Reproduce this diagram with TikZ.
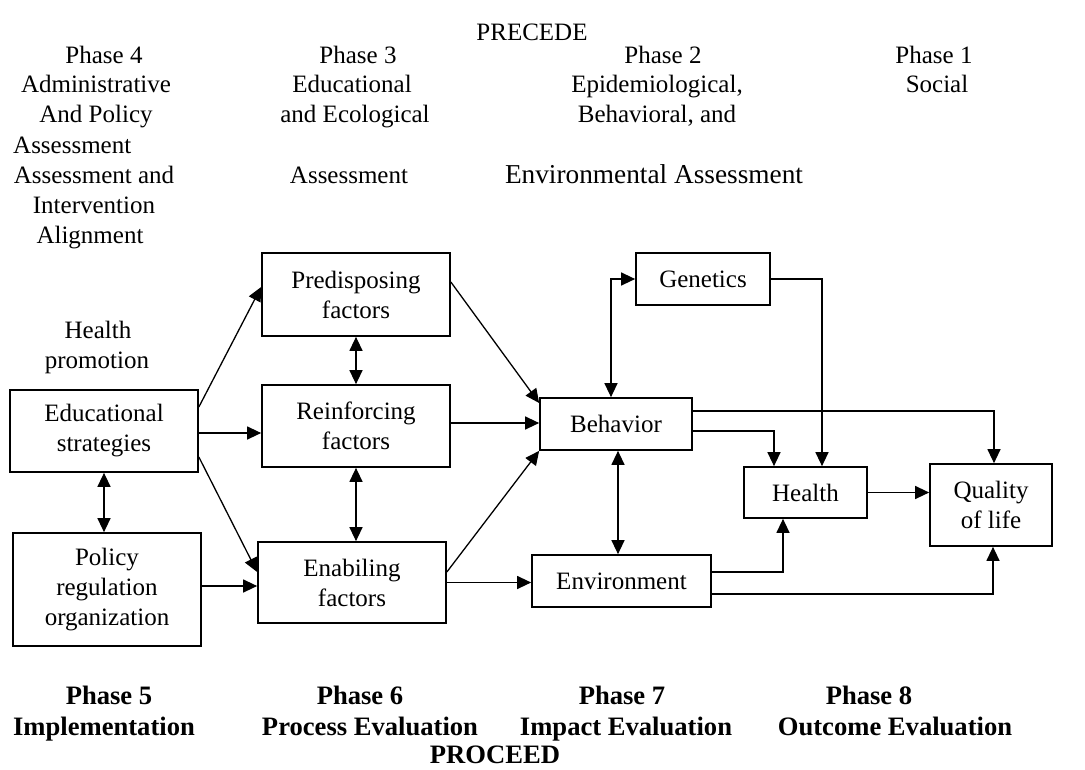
\documentclass[tikz,border=0pt]{standalone}
\usepackage{fontspec}
\setmainfont{Liberation Serif}
\usetikzlibrary{arrows.meta}
\begin{document}
\begin{tikzpicture}[x=1pt,y=-1pt,
  every node/.style={font=\fontsize{25}{30}\selectfont, inner sep=0pt},
  box/.style={draw, line width=1.7pt, align=center},
  lbl/.style={anchor=base},
  blbl/.style={anchor=base, font=\fontsize{26.6}{31}\selectfont\bfseries},
  arr/.style={-{Triangle[length=14pt,width=13pt]}, line width=1.3pt},
  darr/.style={{Triangle[length=14pt,width=13pt]}-{Triangle[length=14pt,width=13pt]}, line width=1.3pt}]
\useasboundingbox[fill=white] (0,0) rectangle (1085,769);

% top labels
\node[lbl] (precede) at (532,40) {PRECEDE};
\node[lbl] (p4a) at (104,63) {Phase 4};
\node[lbl] (p4b) at (96,92) {Administrative};
\node[lbl] (p4c) at (96,122) {And Policy};
\node[lbl,anchor=base west] (p4d) at (13,153) {Assessment};
\node[lbl] (p4e) at (94,183) {Assessment and};
\node[lbl] (p4f) at (94,213) {Intervention};
\node[lbl] (p4g) at (90,243) {Alignment};

\node[lbl] (p3a) at (358,63) {Phase 3};
\node[lbl] (p3b) at (352,92) {Educational};
\node[lbl] (p3c) at (355,122) {and Ecological};
\node[lbl] (p3d) at (349,183) {Assessment};

\node[lbl] (p2a) at (663,63) {Phase 2};
\node[lbl] (p2b) at (657,92) {Epidemiological,};
\node[lbl] (p2c) at (657,122) {Behavioral, and};
\node[lbl, font=\fontsize{27.3}{30}\selectfont] (p2d) at (654,183) {Environmental Assessment};

\node[lbl] (p1a) at (934,63) {Phase 1};
\node[lbl] (p1b) at (937,92) {Social};

\node[lbl] (hp1) at (98,338) {Health};
\node[lbl] (hp2) at (97,368) {promotion};

% boxes
\node[box, minimum width=188pt, minimum height=82pt] (edu) at (104,431) {Educational\\strategies};
\node[box, minimum width=188pt, minimum height=113pt] (pol) at (107,589.5) {Policy\\regulation\\organization};
\node[box, minimum width=188pt, minimum height=83pt] (pre) at (356,294.5) {Predisposing\\factors};
\node[box, minimum width=188pt, minimum height=82pt] (rei) at (356,426) {Reinforcing\\factors};
\node[box, minimum width=188pt, minimum height=81pt] (ena) at (352,582.5) {Enabiling\\factors};
\node[box, minimum width=152pt, minimum height=52pt] (beh) at (616,424) {Behavior};
\node[box, minimum width=134pt, minimum height=52pt] (gen) at (703,279) {Genetics};
\node[box, minimum width=123pt, minimum height=51pt] (hea) at (805.5,492.5) {Health};
\node[box, minimum width=122pt, minimum height=82pt] (qol) at (991,505) {Quality\\of life};
\node[box, minimum width=179pt, minimum height=52pt] (env) at (621.5,581) {Environment};

% connectors
\draw[arr] ([yshift=24pt]edu.east) -- ([yshift=7.5pt]pre.west);
\draw[arr] ([yshift=-2pt]edu.east) coordinate (e2) -- (e2 -| rei.west);
\draw[arr] ([yshift=-26pt]edu.east) -- ([yshift=10.5pt]ena.west);
\draw[darr] (edu.south) -- (edu.south |- pol.north);
\draw[arr] ([yshift=3.5pt]pol.east) coordinate (p1) -- (p1 -| ena.west);
\draw[darr] (pre.south) -- (rei.north);
\draw[darr] (rei.south) -- (rei.south |- ena.north);
\draw[arr] ([yshift=12.5pt]pre.east) -- ([yshift=21pt]beh.west);
\draw[arr] ([yshift=3pt]rei.east) coordinate (r1) -- (r1 -| beh.west);
\draw[arr] ([yshift=10.5pt]ena.east) -- (beh.south west);
\draw[arr] (ena.east) -- (ena.east -| env.west);
\draw[darr] (gen.west) -| ([xshift=-5pt]beh.north);
\draw[arr] (gen.east) -| ([xshift=16.5pt]hea.north);
\draw[arr] ([yshift=13pt]beh.east) -| ([xshift=3pt]qol.north);
\draw[arr] ([yshift=-7pt]beh.east) -| ([xshift=-31.5pt]hea.north);
\draw[darr] ([xshift=2pt]beh.south) coordinate (b1) -- (b1 |- env.north);
\draw[arr] (hea.east) -- (hea.east -| qol.west);
\draw[arr] ([yshift=9pt]env.east) -| ([xshift=-22.5pt]hea.south);
\draw[arr] ([yshift=-13pt]env.east) -| ([xshift=2pt]qol.south);

% bottom labels
\node[blbl] (p5a) at (109,704) {Phase 5};
\node[blbl] (p5b) at (104,735) {Implementation};
\node[blbl] (p6a) at (360,704) {Phase 6};
\node[blbl] (p6b) at (370,735) {Process Evaluation};
\node[blbl] (p7a) at (622,704) {Phase 7};
\node[blbl] (p7b) at (626,735) {Impact Evaluation};
\node[blbl] (p8a) at (869,704) {Phase 8};
\node[blbl] (p8b) at (895,735) {Outcome Evaluation};
\node[blbl] (proceed) at (495,763) {PROCEED};
\end{tikzpicture}
\end{document}
